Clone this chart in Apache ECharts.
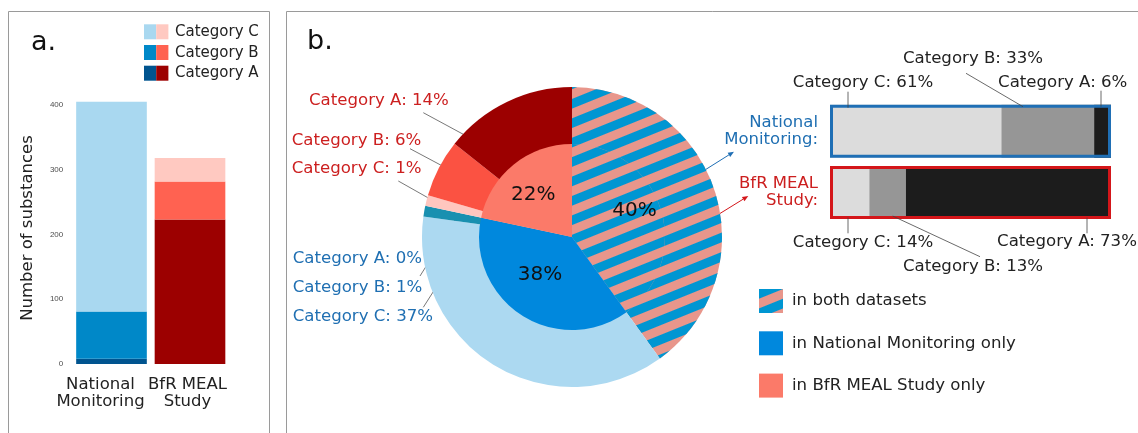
<!DOCTYPE html>
<html><head><meta charset="utf-8">
<script src="https://cdn.jsdelivr.net/npm/echarts@6/dist/echarts.min.js"></script>
<style>html,body{margin:0;padding:0;background:#fff}#c{width:1138px;height:433px}</style>
</head><body><div id="c"></div>
<script>
const FONT = 'DejaVu Sans';
// ---------- Panel a: number of substances ----------
const barCategories = ['National Monitoring', 'BfR MEAL Study'];
const categoryNames = ['Category A', 'Category B', 'Category C'];
const countCatA = [8, 223];
const countCatB = [73, 59];
const countCatC = [324, 36];
const yTickInterval = 100;
// ---------- Panel b: overlap pie ----------
const overlapGroups = ['in both datasets', 'in National Monitoring only', 'in BfR MEAL Study only'];
const overlapCounts = [207, 198, 112];
const nmOnlyByCat = [0, 6, 192];   // Category A, B, C
const bfrOnlyByCat = [74, 32, 6];  // Category A, B, C
// ---------- Panel b: category shares of substances in both datasets (%) ----------
const bothSets = ['National Monitoring', 'BfR MEAL Study'];
const bothShareA = [6, 73];
const bothShareB = [33, 13];
const bothShareC = [61, 14];

// ---------- styles ----------
const nmBar = ['#00548f', '#0088c8', '#a9d8f0'];
const bfrBar = ['#9c0000', '#ff6251', '#ffc9c1'];
const nmPie = ['#00548f', '#1990b0', '#acd9f1'];
const bfrPie = ['#9c0000', '#fb5242', '#ffc6bf'];
const nmOnlyColor = '#0088dd', bfrOnlyColor = '#fb7a69';
const hatch = { color: '#e8968b', decal: { symbol: 'rect', symbolSize: 1, dashArrayX: [1, 0], dashArrayY: [9, 9], rotation: -0.384, color: '#0096d2' } };
const blueText = '#1f6fb2', redText = '#cc1f1f';
const grays = ['#1c1c1c', '#969696', '#dcdcdc'];
const PIE_C = [572, 237], PIE_R = 150, PIE_R0 = 93;
const LABEL_SIZE = 16.6;

const pieTotal = overlapCounts.reduce((a, b) => a + b, 0);
const pct = v => Math.round(v / pieTotal * 100);

// label layout (annotation positions)
const pieLabelPos = {
  1: { x: 292.7, y: 316.7, line: [[456.7, 255], [423.3, 307.3]] },
  2: { x: 292.7, y: 287.3, line: [[458.3, 215], [420, 276]] },
  3: { x: 292.7, y: 258.3 },
  4: { x: 291.7, y: 168.3, line: [[436.7, 202.7], [398.3, 181]] },
  5: { x: 291.7, y: 140.7, line: [[450, 170], [410, 148.7]] },
  6: { x: 309, y: 100.7, line: [[467.7, 136.7], [423.3, 112.7]] }
};
const innerLabelOffset = [[15.5, -11], [-5, -4], [-7.7, -4.2]];
const shareLabelPos = {
  'Category C': [{ x: 863, y: 82.7, line: [[848, 107.7], [848, 91.7]] }, { x: 863, y: 242.7, line: [[848, 217.7], [848, 233.3]] }],
  'Category B': [{ x: 973, y: 58.3, line: [[1023, 106.7], [966, 73.3]] }, { x: 973, y: 266.7, line: [[892.7, 216], [980, 256.7]] }],
  'Category A': [{ x: 1062.7, y: 82.3, line: [[1101, 106.7], [1101, 90.7]] }, { x: 1067, y: 241.7, line: [[1087, 217.7], [1087, 233.3]] }]
};

// ---------- panel a bar series ----------
const panelASeries = [countCatA, countCatB, countCatC].map((vals, k) => ({
  type: 'bar', name: categoryNames[k], stack: 'a', xAxisIndex: 0, yAxisIndex: 0,
  barCategoryGap: '10%', silent: true,
  data: vals.map((v, i) => ({ value: v, itemStyle: { color: i === 0 ? nmBar[k] : bfrBar[k] } }))
}));

// ---------- panel b share bars ----------
const shareArrays = [bothShareC, bothShareB, bothShareA];
const shareNames = ['Category C', 'Category B', 'Category A'];
const shareColors = [grays[2], grays[1], grays[0]];
const shareSeries = shareArrays.map((vals, k) => ({
  type: 'bar', name: shareNames[k], stack: 'b', xAxisIndex: 1, yAxisIndex: 1,
  barCategoryGap: '13.5%', barGap: '-100%', silent: true,
  itemStyle: { color: shareColors[k] },
  data: vals,
  label: { show: true, formatter: p => p.seriesName + ': ' + p.value + '%', fontSize: LABEL_SIZE, fontFamily: FONT, color: '#222' },
  labelLine: { show: false },
  labelLayout: p => {
    const L = shareLabelPos[shareNames[k]][p.dataIndex];
    return { x: L.x, y: L.y, align: 'center', verticalAlign: 'middle' };
  }
}));
const borderSeries = {
  type: 'bar', xAxisIndex: 1, yAxisIndex: 1, barCategoryGap: '13.5%', barGap: '-100%', silent: true, z: 4,
  itemStyle: { color: 'rgba(0,0,0,0)', borderWidth: 3 },
  data: bothSets.map((s, i) => ({ value: 100, itemStyle: { borderColor: i === 0 ? '#1f6fb5' : '#d4161a' } }))
};

// ---------- pies ----------
const outerData = [
  { name: overlapGroups[0], value: overlapCounts[0], itemStyle: hatch, label: { show: false }, labelLine: { show: false } }
];
[2, 1, 0].forEach(c => outerData.push({ name: 'NM only ' + categoryNames[c], value: nmOnlyByCat[c], cat: categoryNames[c], grp: 'nm', itemStyle: { color: nmPie[c] } }));
[2, 1, 0].forEach(c => outerData.push({ name: 'BfR only ' + categoryNames[c], value: bfrOnlyByCat[c], cat: categoryNames[c], grp: 'bfr', itemStyle: { color: bfrPie[c] } }));
outerData.forEach((d, i) => {
  if (i > 0) {
    d.label = { color: d.grp === 'nm' ? blueText : redText };
    if (!pieLabelPos[i].line) d.labelLine = { show: false };
  }
});

const outerPie = {
  type: 'pie', center: PIE_C, radius: [0, PIE_R], startAngle: 90, clockwise: true,
  avoidLabelOverlap: false, silent: true, z: 2,
  data: outerData,
  label: { show: true, position: 'outside', fontSize: LABEL_SIZE, fontFamily: FONT, formatter: p => p.data.cat + ': ' + pct(p.value) + '%' },
  labelLine: { show: true, lineStyle: { color: '#555', width: 0.8 } },
  labelLayout: p => {
    const L = pieLabelPos[p.dataIndex];
    if (!L) return {};
    const r = { x: L.x, y: L.y, align: 'left', verticalAlign: 'middle' };
    if (L.line) r.labelLinePoints = [L.line[0], L.line[1], L.line[1]];
    return r;
  }
};
const innerColors = [null, nmOnlyColor, bfrOnlyColor];
const innerPie = {
  type: 'pie', center: PIE_C, radius: [0, PIE_R0], startAngle: 90, clockwise: true,
  avoidLabelOverlap: false, silent: true, z: 3,
  data: overlapGroups.map((g, i) => ({
    name: g, value: overlapCounts[i],
    itemStyle: i === 0 ? hatch : { color: innerColors[i] },
    label: { offset: innerLabelOffset[i] }
  })),
  label: { show: true, position: 'inside', fontSize: 20, fontFamily: FONT, color: '#111', formatter: p => pct(p.value) + '%' },
  labelLine: { show: false }
};

// ---------- graphics ----------
function arrow(p0, p1, color) {
  const dx = p1[0] - p0[0], dy = p1[1] - p0[1], len = Math.hypot(dx, dy);
  const ux = dx / len, uy = dy / len, nx = -uy, ny = ux, h = 6, w = 2.4;
  const b = [p1[0] - h * ux, p1[1] - h * uy];
  return [
    { type: 'polyline', silent: true, shape: { points: [p0, b] }, style: { stroke: color, lineWidth: 1, fill: null } },
    { type: 'polygon', silent: true, shape: { points: [p1, [b[0] + w * nx, b[1] + w * ny], [b[0] - w * nx, b[1] - w * ny]] }, style: { fill: color } }
  ];
}
function txt(x, y, text, size, color, align) {
  return { type: 'text', x: x, y: y, silent: true, style: { text: text, font: size + 'px ' + FONT, fill: color, align: align || 'left', verticalAlign: 'middle', textAlign: align || 'left', textVerticalAlign: 'middle' } };
}
const graphics = [
  { type: 'rect', silent: true, shape: { x: 8.5, y: 11.5, width: 261, height: 440 }, style: { fill: null, stroke: '#9a9a9a', lineWidth: 1 } },
  { type: 'rect', silent: true, shape: { x: 286.5, y: 11.5, width: 870, height: 440 }, style: { fill: null, stroke: '#9a9a9a', lineWidth: 1 } },
  txt(31, 43, 'a.', 27, '#111'),
  txt(307, 42, 'b.', 27, '#111')
];
const legendRows = [2, 1, 0];
const legendY = [24.3, 45, 65.7];
legendRows.forEach((c, r) => {
  graphics.push({ type: 'rect', silent: true, shape: { x: 144, y: legendY[r], width: 12.2, height: 15 }, style: { fill: nmBar[c] } });
  graphics.push({ type: 'rect', silent: true, shape: { x: 156.2, y: legendY[r], width: 12.2, height: 15 }, style: { fill: bfrBar[c] } });
  graphics.push(txt(175, legendY[r] + 7.7, categoryNames[c], 15, '#222'));
});
graphics.push(...arrow([693.3, 177.3], [734, 151.7], '#1f6fb5'));
graphics.push(...arrow([706.7, 221.7], [748.3, 196], '#d4161a'));
// leader lines for the share-bar labels
Object.keys(shareLabelPos).forEach(k => shareLabelPos[k].forEach(L => {
  graphics.push({ type: 'polyline', silent: true, z: 10, shape: { points: L.line }, style: { stroke: '#444', lineWidth: 0.8, fill: null } });
}));

const option = {
  animation: false,
  backgroundColor: '#fff',
  textStyle: { fontFamily: FONT },
  grid: [
    { left: 72.25, top: 92.05, width: 157, height: 271.95 },
    { left: 830, top: 100.55, width: 281, height: 122.6 }
  ],
  xAxis: [
    {
      type: 'category', gridIndex: 0, data: barCategories,
      axisLine: { show: false }, axisTick: { show: false },
      axisLabel: {
        margin: 12.6, interval: 0,
        formatter: (v, i) => { const k = v.lastIndexOf(' '); const s = i === 0 ? 'l0' : 'l1'; return '{' + s + '|' + v.slice(0, k) + '}\n{' + s + '|' + v.slice(k + 1) + '}'; },
        rich: {
          l0: { fontSize: 16.5, fontFamily: FONT, color: '#222', lineHeight: 16.7, padding: [0, 22, 0, 0] },
          l1: { fontSize: 16.5, fontFamily: FONT, color: '#222', lineHeight: 16.7, padding: [0, 5, 0, 0] }
        }
      }
    },
    { type: 'value', gridIndex: 1, min: 0, max: 100, show: false }
  ],
  yAxis: [
    {
      type: 'value', gridIndex: 0, min: 0, max: 420, interval: yTickInterval,
      axisLine: { show: false }, axisTick: { show: false }, splitLine: { show: false },
      axisLabel: { showMaxLabel: false, fontSize: 8, fontFamily: 'Liberation Sans', color: '#4d4d4d', margin: 9 },
      name: 'Number of substances', nameLocation: 'middle', nameGap: 36,
      nameTextStyle: { fontSize: 16.5, fontFamily: FONT, color: '#222' }
    },
    {
      type: 'category', gridIndex: 1, data: bothSets, inverse: true,
      axisLine: { show: false }, axisTick: { show: false },
      axisLabel: {
        margin: 12,
        formatter: (v, i) => { const k = v.lastIndexOf(' '); const s = i === 0 ? 'nm' : 'bfr'; return '{' + s + '|' + v.slice(0, k) + '}\n{' + s + '|' + v.slice(k + 1) + ':}'; },
        rich: {
          nm: { fontSize: 16.5, fontFamily: FONT, color: blueText, lineHeight: 16.7, align: 'right' },
          bfr: { fontSize: 16.5, fontFamily: FONT, color: redText, lineHeight: 16.7, align: 'right' }
        }
      }
    }
  ],
  legend: {
    orient: 'vertical', left: 759, top: 289, padding: 0, itemWidth: 24, itemHeight: 24, itemGap: 18.3,
    icon: 'rect', selectedMode: false, data: overlapGroups,
    textStyle: { fontSize: LABEL_SIZE, fontFamily: FONT, color: '#222', padding: [0, 0, 0, 4] }
  },
  graphic: graphics,
  series: [...panelASeries, ...shareSeries, borderSeries, outerPie, innerPie]
};
const chart = echarts.init(document.getElementById('c'), null, { renderer: 'canvas' });
chart.setOption(option);
</script></body></html>
